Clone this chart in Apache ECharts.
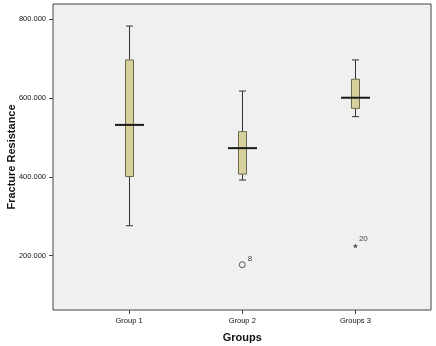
<!DOCTYPE html>
<html>
<head>
<meta charset="utf-8">
<style>
  html, body { margin: 0; padding: 0; background: #fff; }
  #chart { width: 436px; height: 346px; }
</style>
<script src="https://cdn.jsdelivr.net/npm/echarts@6/dist/echarts.min.js"></script>
</head>
<body>
<div id="chart"></div>
<script>
// data
var groups = ['Group 1', 'Group 2', 'Groups 3'];
var lowWhisker = [276, 392, 553];
var q1 = [401, 407, 574];
var median = [532, 473, 601];
var q3 = [697, 515, 648];
var highWhisker = [783, 618, 697];
// outliers: circle (group 2, case 8), star (group 3, case 20)
var circleOutliers = [[1, 177, '8']];
var starOutliers = [[2, 225, '20']];
var yTicks = [200, 400, 600, 800];

var boxData = groups.map(function (g, i) {
    return [i, lowWhisker[i], q1[i], median[i], q3[i], highWhisker[i]];
});

var chart = echarts.init(document.getElementById('chart'));

function renderBox(params, api) {
    var i = api.value(0);
    var pLow = api.coord([i, api.value(1)]);
    var pQ1 = api.coord([i, api.value(2)]);
    var pMed = api.coord([i, api.value(3)]);
    var pQ3 = api.coord([i, api.value(4)]);
    var pHigh = api.coord([i, api.value(5)]);
    var x = Math.round(pMed[0]) + 0.5;
    var boxW = 8, capW = 7, medW = 29;
    var whisker = { stroke: '#333', lineWidth: 1 };
    return {
        type: 'group',
        children: [
            { type: 'line', shape: { x1: x, y1: pLow[1], x2: x, y2: pQ1[1] }, style: whisker },
            { type: 'line', shape: { x1: x, y1: pQ3[1], x2: x, y2: pHigh[1] }, style: whisker },
            { type: 'line', shape: { x1: x - capW / 2, y1: pLow[1], x2: x + capW / 2, y2: pLow[1] }, style: whisker },
            { type: 'line', shape: { x1: x - capW / 2, y1: pHigh[1], x2: x + capW / 2, y2: pHigh[1] }, style: whisker },
            {
                type: 'rect',
                shape: { x: x - boxW / 2, y: pQ3[1], width: boxW, height: pQ1[1] - pQ3[1] },
                style: { fill: '#d6d09c', stroke: '#6e6b4c', lineWidth: 1 }
            },
            {
                type: 'line',
                shape: { x1: x - medW / 2, y1: pMed[1], x2: x + medW / 2, y2: pMed[1] },
                style: { stroke: '#1a1a1a', lineWidth: 2 }
            }
        ]
    };
}

var labelFont = { color: '#111', fontSize: 7.5, fontFamily: 'Liberation Sans' };

chart.setOption({
    animation: false,
    backgroundColor: '#fff',
    grid: [
        // frame
        { left: 53, top: 4, width: 378, height: 306, outerBoundsMode: 'none', show: true, backgroundColor: '#f0f0f0', borderColor: '#444', borderWidth: 1 },
        // boxes
        { left: 72.5, top: 4, width: 339.5, height: 306, outerBoundsMode: 'none' }
    ],
    xAxis: [
        { gridIndex: 0, type: 'value', show: false, min: 0, max: 1 },
        {
            gridIndex: 1,
            type: 'category',
            data: groups,
            boundaryGap: true,
            axisLine: { show: false },
            axisTick: { show: true, alignWithLabel: true, length: 4, lineStyle: { color: '#444' } },
            axisLabel: Object.assign({ margin: 7 }, labelFont),
            name: 'Groups',
            nameLocation: 'middle',
            nameGap: 22,
            nameMoveOverlap: false,
            nameTextStyle: { fontSize: 11, fontWeight: 'bold', color: '#111', fontFamily: 'Liberation Sans' }
        }
    ],
    yAxis: [
        { gridIndex: 0, type: 'value', show: false, min: 0, max: 1 },
        {
            gridIndex: 1,
            type: 'value',
            min: 62,
            max: 839,
            offset: 19.5,
            axisLine: { show: false },
            axisTick: { show: true, length: 4, customValues: yTicks, lineStyle: { color: '#444' } },
            axisLabel: Object.assign({
                margin: 7,
                customValues: yTicks,
                formatter: function (v) { return v.toFixed(3); }
            }, labelFont),
            splitLine: { show: false },
            name: 'Fracture Resistance',
            nameLocation: 'middle',
            nameGap: 36,
            nameMoveOverlap: false,
            nameTextStyle: { fontSize: 11, fontWeight: 'bold', color: '#111', fontFamily: 'Liberation Sans' }
        }
    ],
    series: [
        {
            type: 'custom',
            xAxisIndex: 1,
            yAxisIndex: 1,
            renderItem: renderBox,
            encode: { x: 0, y: [1, 2, 3, 4, 5] },
            data: boxData,
            z: 2
        },
        {
            type: 'scatter',
            xAxisIndex: 1,
            yAxisIndex: 1,
            symbol: 'circle',
            symbolSize: 6,
            itemStyle: { color: 'transparent', borderColor: '#333', borderWidth: 1 },
            label: {
                show: true, position: 'right', offset: [-3, -6],
                formatter: function (p) { return p.data[2]; },
                color: '#111', fontSize: 8, fontFamily: 'Liberation Sans'
            },
            data: circleOutliers,
            z: 3
        },
        {
            type: 'scatter',
            xAxisIndex: 1,
            yAxisIndex: 1,
            symbol: 'path://M0,-10 L2.35,-3.24 L9.51,-3.09 L3.8,1.24 L5.88,8.09 L0,4 L-5.88,8.09 L-3.8,1.24 L-9.51,-3.09 L-2.35,-3.24 Z',
            symbolSize: 5,
            itemStyle: { color: '#222' },
            label: {
                show: true, position: 'right', offset: [-4, -7],
                formatter: function (p) { return p.data[2]; },
                color: '#111', fontSize: 8, fontFamily: 'Liberation Sans'
            },
            data: starOutliers,
            z: 3
        }
    ]
});
</script>
</body>
</html>
